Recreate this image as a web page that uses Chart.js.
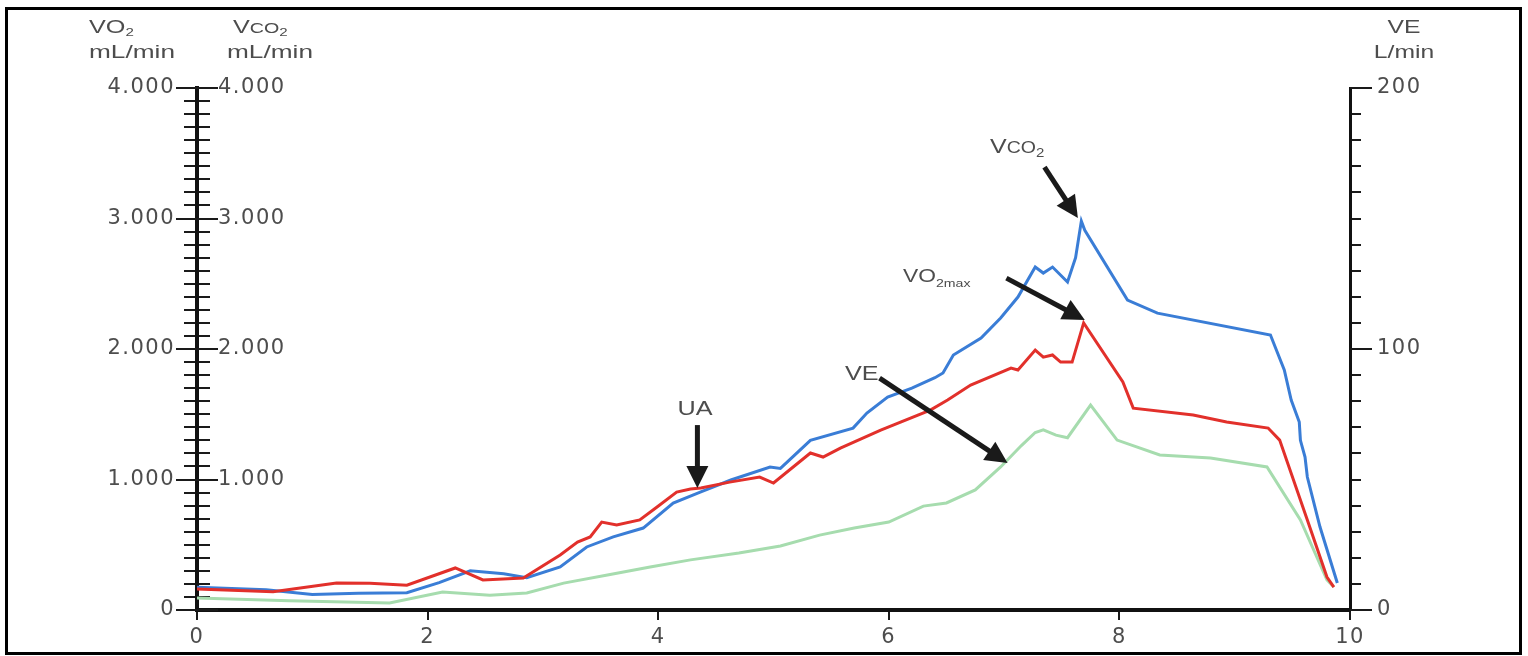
<!DOCTYPE html>
<html>
<head>
<meta charset="utf-8">
<script src="https://cdn.jsdelivr.net/npm/chart.js@4.4.0/dist/chart.umd.min.js"></script>
<style>
  html, body { margin: 0; padding: 0; background: #fff; }
  #wrap { position: relative; width: 1528px; height: 656px; overflow: hidden; }
  #frame { position: absolute; left: 5px; top: 7px; width: 1511px; height: 642px; border: 3px solid #000; pointer-events: none; }
  canvas { position: absolute; left: 0; top: 0; }
  .lbl { position: absolute; font-family: "Liberation Sans", Arial, sans-serif; color: #4d4d4d; line-height: 1; white-space: nowrap; }
  .lbl sub { font-size: 0.6em; vertical-align: -0.3em; line-height: 0; }
  .lbl small { font-size: 0.78em; }
</style>
</head>
<body>
<div id="wrap">
  <canvas id="chart" width="1528" height="656"></canvas>
  <div id="frame"></div>
</div>
<script>
// time axis (min) and values
const vco2Min  = [0, 0.6, 1.0, 1.4, 1.82, 2.1, 2.37, 2.66, 2.86, 3.15, 3.38, 3.61, 3.87, 4.13, 4.37, 4.63, 4.97, 5.06, 5.32, 5.69, 5.81, 5.99, 6.2, 6.4, 6.47, 6.56, 6.8, 6.97, 7.12, 7.27, 7.34, 7.42, 7.55, 7.62, 7.67, 7.7, 8.07, 8.33, 9.31, 9.43, 9.49, 9.56, 9.57, 9.61, 9.63, 9.74, 9.89];
const vco2Vals = [175, 155, 118, 128, 132, 210, 300, 278, 248, 330, 483, 560, 628, 820, 905, 996, 1096, 1085, 1300, 1394, 1509, 1632, 1700, 1780, 1816, 1954, 2084, 2237, 2398, 2628, 2582, 2628, 2513, 2700, 2980, 2910, 2375, 2275, 2107, 1839, 1609, 1440, 1300, 1172, 1019, 636, 207];

const vo2Min  = [0, 0.66, 1.21, 1.5, 1.82, 2.24, 2.48, 2.83, 3.15, 3.3, 3.41, 3.51, 3.64, 3.84, 3.99, 4.16, 4.28, 4.37, 4.62, 4.88, 5.0, 5.32, 5.43, 5.58, 5.93, 6.36, 6.51, 6.71, 7.06, 7.12, 7.27, 7.34, 7.42, 7.49, 7.59, 7.69, 8.03, 8.12, 8.64, 8.93, 9.29, 9.39, 9.63, 9.8, 9.86];
const vo2Vals = [160, 140, 207, 205, 190, 322, 230, 245, 421, 520, 560, 674, 651, 690, 789, 904, 927, 935, 980, 1019, 973, 1203, 1172, 1241, 1379, 1532, 1609, 1724, 1854, 1839, 1992, 1938, 1954, 1900, 1900, 2200, 1747, 1547, 1494, 1440, 1394, 1302, 689, 253, 176];

const veMin  = [0, 0.8, 1.67, 2.13, 2.54, 2.86, 3.18, 3.56, 3.93, 4.28, 4.7, 5.06, 5.4, 5.7, 6.0, 6.3, 6.5, 6.75, 6.97, 7.15, 7.27, 7.34, 7.45, 7.55, 7.75, 7.98, 8.35, 8.79, 9.28, 9.57, 9.8, 9.86];
const veVals = [4.6, 3.5, 2.7, 6.9, 5.7, 6.5, 10.3, 13.4, 16.5, 19.2, 21.8, 24.5, 28.7, 31.4, 33.7, 39.8, 41, 46, 54.8, 63, 68, 69, 67, 66, 78.5, 65.1, 59.4, 58.2, 54.8, 34.5, 11.5, 8.8];

// labelled ticks
const xTicks = [0, 2, 4, 6, 8, 10];
const leftTicks = [0, 1000, 2000, 3000, 4000];
const rightTicks = [0, 100, 200];

// arrows: tail and tip in (min, mL/min)
const arrowTails = [[4.34, 1417], [5.92, 1777], [7.02, 2543], [7.35, 3393]];
const arrowTips  = [[4.34, 935], [7.03, 1126], [7.70, 2222], [7.64, 3003]];

function pairs(xs, ys) {
    return xs.map(function(x, i) { return {x: x, y: ys[i]}; });
}

function fmtThousand(v) {
    return v === 0 ? '0' : (v / 1000) + '.000';
}

function drawArrow(ctx, x1, y1, x2, y2) {
    const ang = Math.atan2(y2 - y1, x2 - x1);
    const head = 22, half = 11;
    const bx = x2 - head * Math.cos(ang), by = y2 - head * Math.sin(ang);
    ctx.lineWidth = 5;
    ctx.beginPath();
    ctx.moveTo(x1, y1);
    ctx.lineTo(bx + 4 * Math.cos(ang), by + 4 * Math.sin(ang));
    ctx.stroke();
    ctx.beginPath();
    ctx.moveTo(x2, y2);
    ctx.lineTo(bx + half * Math.sin(ang), by - half * Math.cos(ang));
    ctx.lineTo(bx - half * Math.sin(ang), by + half * Math.cos(ang));
    ctx.closePath();
    ctx.fill();
}

const axisMarks = {
    id: 'axisMarks',
    beforeDraw(chart) {
        chart.ctx.letterSpacing = '1.5px';
    },
    afterDatasetsDraw(chart) {
        const ctx = chart.ctx;
        const area = chart.chartArea;
        const xs = chart.scales.x, ys = chart.scales.y, yr = chart.scales.yR;
        ctx.save();
        ctx.strokeStyle = '#1a1a1a';
        ctx.fillStyle = '#1a1a1a';
        ctx.lineWidth = 2;
        // longer major ticks
        leftTicks.forEach(function(v) {
            const py = Math.round(ys.getPixelForValue(v));
            ctx.beginPath();
            ctx.moveTo(area.left - 21, py);
            ctx.lineTo(area.left + 21, py);
            ctx.stroke();
        });
        rightTicks.forEach(function(v) {
            const py = Math.round(yr.getPixelForValue(v));
            ctx.beginPath();
            ctx.moveTo(area.right, py);
            ctx.lineTo(area.right + 22, py);
            ctx.stroke();
        });
        // annotation arrows
        for (let i = 0; i < arrowTails.length; i++) {
            drawArrow(ctx,
                xs.getPixelForValue(arrowTails[i][0]), ys.getPixelForValue(arrowTails[i][1]),
                xs.getPixelForValue(arrowTips[i][0]), ys.getPixelForValue(arrowTips[i][1]));
        }
        ctx.restore();
    },
    afterDraw(chart) {
        chart.ctx.letterSpacing = '0px';
    }
};

Chart.defaults.font.family = "'DejaVu Sans', sans-serif";
Chart.defaults.color = '#4d4d4d';

const tickGrid = { drawOnChartArea: false, color: '#1a1a1a', lineWidth: 2 };

new Chart(document.getElementById('chart'), {
    type: 'line',
    data: {
        datasets: [
            { label: 'VO2', data: pairs(vo2Min, vo2Vals), borderColor: '#e2302b', yAxisID: 'y' },
            { label: 'VCO2', data: pairs(vco2Min, vco2Vals), borderColor: '#3a7dd6', yAxisID: 'y' },
            { label: 'VE', data: pairs(veMin, veVals), borderColor: '#a6dcae', yAxisID: 'yR' }
        ]
    },
    options: {
        responsive: false,
        animation: false,
        devicePixelRatio: 1,
        elements: {
            line: { borderWidth: 3, tension: 0 },
            point: { radius: 0 }
        },
        layout: { padding: { top: 88, left: 0, right: 0, bottom: 0 } },
        plugins: { legend: { display: false }, tooltip: { enabled: false } },
        scales: {
            x: {
                type: 'linear', position: 'bottom', min: 0, max: 10,
                ticks: { stepSize: 2, autoSkip: false, padding: 5, font: { size: 21 },
                    callback: function(v) { return xTicks.includes(v) ? String(v) : ''; } },
                grid: Object.assign({ tickLength: 10 }, tickGrid),
                border: { color: '#111', width: 4 },
                afterFit: function(s) { s.height = 46; }
            },
            y: {
                position: 'left', weight: 1, min: 0, max: 4000,
                ticks: { stepSize: 100, autoSkip: false, padding: 9, font: { size: 21 },
                    callback: function(v) { return leftTicks.includes(v) ? fmtThousand(v) : ''; } },
                grid: Object.assign({ tickLength: 13 }, tickGrid),
                border: { color: '#111', width: 4 },
                afterFit: function(s) { s.width = 197; }
            },
            y2: {
                position: 'left', weight: 0, min: 0, max: 4000,
                ticks: { stepSize: 100, autoSkip: false, mirror: true, padding: 21, font: { size: 21 },
                    callback: function(v) { return v > 0 && leftTicks.includes(v) ? fmtThousand(v) : ''; } },
                grid: Object.assign({ tickLength: -13 }, tickGrid),
                border: { display: false },
                afterFit: function(s) { s.width = 0; }
            },
            yR: {
                position: 'right', min: 0, max: 200,
                ticks: { stepSize: 10, autoSkip: false, padding: 16, font: { size: 21 },
                    callback: function(v) { return rightTicks.includes(v) ? String(v) : ''; } },
                grid: Object.assign({ tickLength: 11 }, tickGrid),
                border: { color: '#111', width: 3 },
                afterFit: function(s) { s.width = 178; }
            }
        }
    },
    plugins: [axisMarks]
});

// axis titles and annotation labels as html text
function addText(html, x, base, size, align, stretch) {
    const d = document.createElement('div');
    d.className = 'lbl';
    d.innerHTML = html;
    d.style.fontSize = size + 'px';
    d.style.top = (base - 0.8465 * size) + 'px';
    d.style.left = x + 'px';
    if (align === 'center') {
        d.style.transformOrigin = 'center';
        d.style.transform = 'translateX(-50%) scaleX(' + stretch + ')';
    } else {
        d.style.transformOrigin = 'left';
        d.style.transform = 'scaleX(' + stretch + ')';
    }
    document.getElementById('wrap').appendChild(d);
}

addText('VO<sub>2</sub>', 89, 33, 18, 'left', 1.4);
addText('mL/min', 89, 58, 19, 'left', 1.38);
addText('V<small>CO</small><sub>2</sub>', 233, 33, 18, 'left', 1.4);
addText('mL/min', 227, 58, 19, 'left', 1.38);
addText('VE', 1404, 33, 19, 'center', 1.3);
addText('L/min', 1404, 58, 19, 'center', 1.3);
addText('UA', 695, 415, 21, 'center', 1.2);
addText('VE', 845, 380, 21, 'left', 1.2);
addText('VO<sub style="font-size:0.62em;vertical-align:-0.45em">2max</sub>', 903, 282, 19, 'left', 1.2);
addText('V<small>CO</small><sub>2</sub>', 990, 153, 20, 'left', 1.25);
</script>
</body>
</html>
